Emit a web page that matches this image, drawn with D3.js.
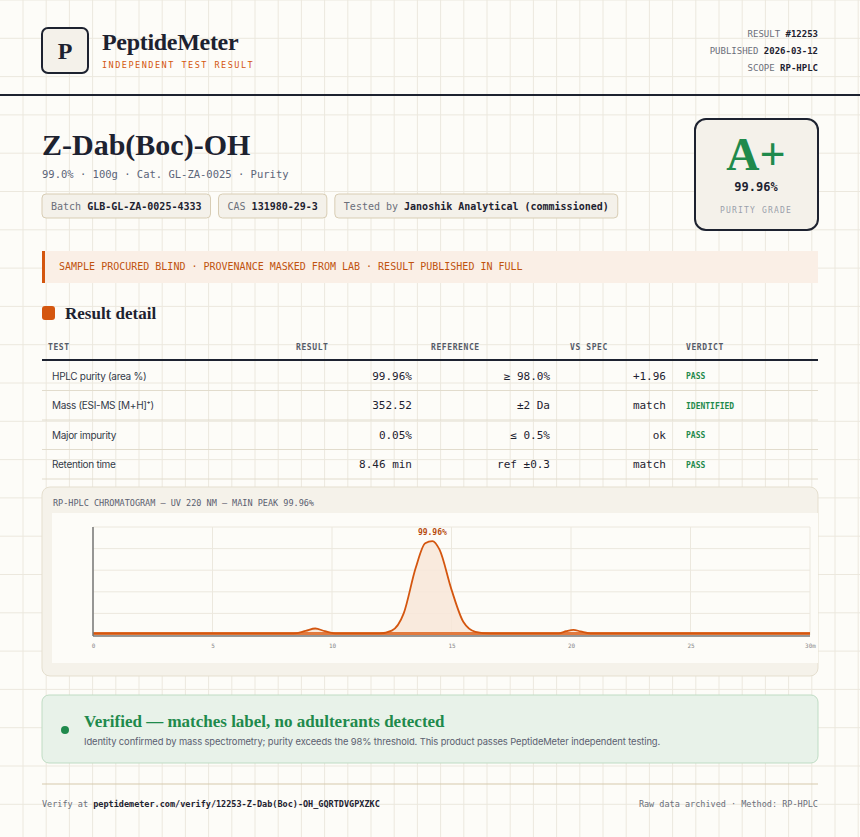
<!DOCTYPE html>
<html><head><meta charset="utf-8">
<script src="https://cdn.jsdelivr.net/npm/d3@7"></script>
<style>body{margin:0;background:#fdfcf8}svg{display:block}</style>
</head><body><svg id="page" width="860" height="837"></svg>
<script>
// data
var metaRows = [["RESULT", "#12253"], ["PUBLISHED", "2026-03-12"], ["SCOPE", "RP-HPLC"]]
var chips = [["Batch ", "GLB-GL-ZA-0025-4333"], ["CAS ", "131980-29-3"], ["Tested by ", "Janoshik Analytical (commissioned)"]]
var columns = ["TEST", "RESULT", "REFERENCE", "VS SPEC", "VERDICT"]
var tests = ["HPLC purity (area %)", "Mass (ESI-MS [M+H]⁺)", "Major impurity", "Retention time"]
var results = ["99.96%", "352.52", "0.05%", "8.46 min"]
var references = ["≥ 98.0%", "±2 Da", "≤ 0.5%", "ref ±0.3"]
var vsSpec = ["+1.96", "match", "ok", "match"]
var verdicts = ["PASS", "IDENTIFIED", "PASS", "PASS"]
var xTicks = [0, 5, 10, 15, 20, 25, 30]
var times = [0, 8.4, 8.9, 9.3, 9.7, 10.2, 12.0, 12.5, 13.0, 13.5, 13.9, 14.2, 14.5, 15.0, 15.5, 16.0, 16.6, 19.5, 19.8, 20.1, 20.4, 20.8, 30]
var signal = [1.5, 1.5, 3.8, 6.0, 3.6, 1.5, 1.5, 4, 20, 62, 85, 87, 79, 42, 12, 3, 1.5, 1.5, 3.5, 4.8, 3.3, 1.5, 1.5]

var mono = "'DejaVu Sans Mono', monospace", serif = "'Liberation Serif', 'DejaVu Serif', serif", sans = "Inter, 'Noto Sans', sans-serif"
var ink = "#1d2230", orange = "#d4560f", green = "#1f8a4c", grey = "#6b6f7a"
var svg = d3.select("#page")

// background grid
var grid = svg.append("g").attr("stroke", "#ece8de").attr("stroke-width", 1)
d3.range(23, 860, 23.2).forEach(function (x) { grid.append("line").attr("x1", x).attr("x2", x).attr("y1", 0).attr("y2", 837) })
d3.range(0, 837, 38.3).forEach(function (y) { grid.append("line").attr("y1", y).attr("y2", y).attr("x1", 0).attr("x2", 860) })

function txt(x, y, s, o) {
  var t = svg.append("text").attr("x", x).attr("y", y).text(s)
  o = o || {}
  t.attr("font-family", o.f || mono).attr("font-size", o.s || 10).attr("fill", o.c || ink)
  if (o.w) t.attr("font-weight", o.w)
  if (o.a) t.attr("text-anchor", o.a)
  if (o.ls) t.attr("letter-spacing", o.ls)
  return t
}

// header
svg.append("rect").attr("x", 42).attr("y", 28).attr("width", 46).attr("height", 45).attr("rx", 6)
  .attr("fill", "#f4f1ea").attr("stroke", ink).attr("stroke-width", 2)
txt(65, 59, "P", { f: serif, s: 24, w: "bold", a: "middle" })
txt(102, 50, "PeptideMeter", { f: serif, s: 24, w: "bold", ls: -0.3 })
txt(102, 68, "INDEPENDENT TEST RESULT", { s: 8.5, c: orange, ls: 1.5 })
metaRows.forEach(function (r, i) {
  var t = txt(818, 37 + i * 17, "", { s: 9, a: "end", c: grey })
  t.append("tspan").text(r[0] + " ")
  t.append("tspan").text(r[1]).attr("fill", ink).attr("font-weight", "bold")
})
svg.append("rect").attr("x", 0).attr("y", 94).attr("width", 860).attr("height", 2).attr("fill", ink)

// title block
txt(42, 155, "Z-Dab(Boc)-OH", { f: serif, s: 30, w: "bold" })
txt(42, 178, "99.0% · 100g · Cat. GL-ZA-0025 · Purity", { s: 10.5, c: "#5b6478" })
var cx = 42
chips.forEach(function (c) {
  var g = svg.append("g")
  var t = g.append("text").attr("x", cx + 9).attr("y", 210).attr("font-family", mono).attr("font-size", 10).attr("fill", grey)
  t.append("tspan").text(c[0])
  t.append("tspan").text(c[1]).attr("fill", ink).attr("font-weight", "bold")
  var w = t.node().getComputedTextLength() + 18
  g.insert("rect", "text").attr("x", cx).attr("y", 194).attr("width", w).attr("height", 24).attr("rx", 4)
    .attr("fill", "#f4f1ea").attr("stroke", "#d8cdb4")
  cx += w + 8
})
svg.append("rect").attr("x", 695).attr("y", 119).attr("width", 123).attr("height", 111).attr("rx", 11)
  .attr("fill", "#f4f1ea").attr("stroke", ink).attr("stroke-width", 2)
txt(756, 170, "A+", { f: serif, s: 46, w: "bold", a: "middle", c: green })
txt(756, 191, "99.96%", { s: 12, w: "bold", a: "middle" })
txt(756, 213, "PURITY GRADE", { s: 8, a: "middle", c: "#9aa0aa", ls: 1.2 })

// banner
svg.append("rect").attr("x", 42).attr("y", 251).attr("width", 776).attr("height", 32).attr("fill", "#faefe6")
svg.append("rect").attr("x", 42).attr("y", 251).attr("width", 3).attr("height", 32).attr("fill", orange)
txt(59, 270, "SAMPLE PROCURED BLIND · PROVENANCE MASKED FROM LAB · RESULT PUBLISHED IN FULL", { s: 10, c: "#c0530f" })

// result detail table
svg.append("rect").attr("x", 42).attr("y", 306).attr("width", 13).attr("height", 14).attr("rx", 3).attr("fill", orange)
txt(65, 319, "Result detail", { f: serif, s: 17, w: "bold" })
var colX = [48, 296, 431, 570, 686]
columns.forEach(function (c, i) { txt(colX[i], 350, c, { s: 8, w: "bold", c: "#555b68", ls: 0.6 }) })
svg.append("rect").attr("x", 42).attr("y", 359).attr("width", 776).attr("height", 2).attr("fill", ink)
var rowY = d3.scaleBand().domain(d3.range(tests.length)).range([361, 479])
tests.forEach(function (t, i) {
  var y = rowY(i) + rowY.bandwidth() / 2 + 4
  txt(52, y, t, { f: sans, s: 10, c: "#333a48", ls: -0.3 })
  txt(412, y, results[i], { s: 11, a: "end" })
  txt(550, y, references[i], { s: 11, a: "end" })
  txt(666, y, vsSpec[i], { s: 11, a: "end" })
  txt(686, y - 0.5, verdicts[i], { s: 8, w: "bold", c: green })
  svg.append("line").attr("x1", 42).attr("x2", 818).attr("y1", rowY(i) + rowY.bandwidth()).attr("y2", rowY(i) + rowY.bandwidth())
    .attr("stroke", "#e2dccd")
})

// chromatogram card
svg.append("rect").attr("x", 42).attr("y", 487).attr("width", 776).attr("height", 189).attr("rx", 8)
  .attr("fill", "#f5f2ea").attr("stroke", "#e5dfcf")
txt(53, 506, "RP-HPLC CHROMATOGRAM — UV 220 NM — MAIN PEAK 99.96%", { s: 8.5, c: "#5b6070" })
svg.append("rect").attr("x", 52).attr("y", 513).attr("width", 766).attr("height", 150).attr("fill", "#fdfcf8")

var x = d3.scaleLinear().domain([0, 30]).range([93, 810])
var y = d3.scaleLinear().domain([0, 100]).range([635, 527])
var ch = svg.append("g")
y.ticks(4).forEach(function (v) {
  ch.append("line").attr("x1", x(0)).attr("x2", x(30)).attr("y1", y(v)).attr("y2", y(v)).attr("stroke", "#ece8de")
})
xTicks.forEach(function (v) {
  ch.append("line").attr("x1", x(v)).attr("x2", x(v)).attr("y1", y(100)).attr("y2", y(0)).attr("stroke", "#ece8de")
})
var pts = times.map(function (t, i) { return [t, signal[i]] })
ch.append("path").datum(pts).attr("fill", "#f8e6d8").attr("opacity", 0.85)
  .attr("d", d3.area().x(function (d) { return x(d[0]) }).y0(y(0)).y1(function (d) { return y(d[1]) }).curve(d3.curveMonotoneX))
ch.append("line").attr("x1", x(0)).attr("x2", x(30)).attr("y1", y(1.5)).attr("y2", y(1.5)).attr("stroke", "#e27a3e").attr("stroke-width", 3)
ch.append("path").datum(pts).attr("fill", "none").attr("stroke", orange).attr("stroke-width", 1.8)
  .attr("d", d3.line().x(function (d) { return x(d[0]) }).y(function (d) { return y(d[1]) }).curve(d3.curveMonotoneX))
ch.append("line").attr("x1", x(0)).attr("x2", x(30)).attr("y1", y(0) + 1).attr("y2", y(0) + 1).attr("stroke", "#777").attr("stroke-width", 1.5)
ch.append("line").attr("x1", x(0)).attr("x2", x(0)).attr("y1", y(100)).attr("y2", y(0) + 1).attr("stroke", "#777").attr("stroke-width", 1.5)
var xAxis = ch.append("g").attr("transform", "translate(0," + (y(0) + 6) + ")")
  .call(d3.axisBottom(x).tickValues(xTicks).tickSize(0).tickFormat(function (d) { return d === 30 ? "30m" : d }))
xAxis.select(".domain").remove()
xAxis.selectAll("text").attr("font-family", mono).attr("font-size", 6).attr("fill", "#888")
var peakI = signal.indexOf(d3.max(signal))
txt(x(times[peakI]), y(signal[peakI]) - 6, "99.96%", { s: 8, a: "middle", c: "#b84d10", w: "bold" })

// verified box
svg.append("rect").attr("x", 42).attr("y", 695).attr("width", 776).attr("height", 68).attr("rx", 7)
  .attr("fill", "#e8f2e9").attr("stroke", "#bfdcc4")
svg.append("circle").attr("cx", 65).attr("cy", 730).attr("r", 4).attr("fill", green)
txt(84, 727, "Verified — matches label, no adulterants detected", { f: serif, s: 17, w: "bold", c: green })
txt(84, 745, "Identity confirmed by mass spectrometry; purity exceeds the 98% threshold. This product passes PeptideMeter independent testing.", { f: sans, s: 9.4, c: "#5b6070", ls: -0.1 })

// footer
svg.append("line").attr("x1", 42).attr("x2", 818).attr("y1", 784).attr("y2", 784).attr("stroke", "#d6c9ac")
var ft = txt(42, 807, "", { s: 8.5, c: grey })
ft.append("tspan").text("Verify at ")
ft.append("tspan").text("peptidemeter.com/verify/12253-Z-Dab(Boc)-OH_GQRTDVGPXZKC").attr("fill", ink).attr("font-weight", "bold")
txt(818, 807, "Raw data archived · Method: RP-HPLC", { s: 8.5, c: grey, a: "end" })
</script></body></html>
